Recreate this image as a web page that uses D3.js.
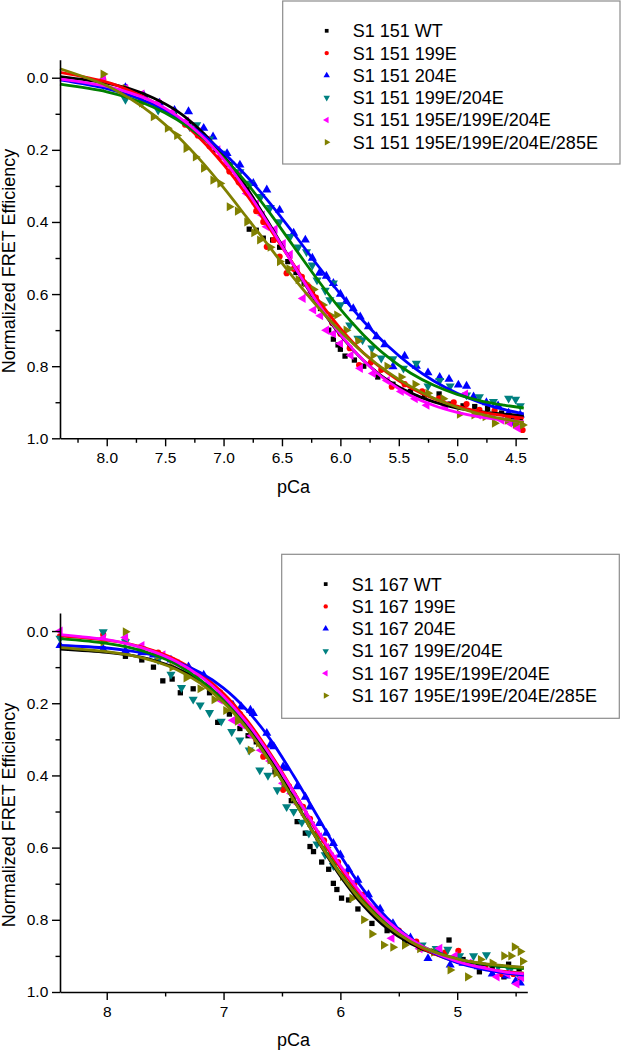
<!DOCTYPE html>
<html><head><meta charset="utf-8">
<script src="https://cdn.jsdelivr.net/npm/d3@7"></script>
<style>
body{margin:0;background:#fff}
svg{display:block}
text{font-family:"Liberation Sans",Arial,Helvetica,sans-serif;fill:#000}
</style>
</head><body>
<svg id="c" width="621" height="1050"></svg>
<script>
// ---------- DATA ----------
const topLabels = ["S1 151 WT","S1 151 199E","S1 151 204E","S1 151 199E/204E","S1 151 195E/199E/204E","S1 151 195E/199E/204E/285E"];
const bottomLabels = ["S1 167 WT","S1 167 199E","S1 167 204E","S1 167 199E/204E","S1 167 195E/199E/204E","S1 167 195E/199E/204E/285E"];
const markerColors = ["#000000","#ff0000","#0000ff","#008080","#ff00ff","#808000"];
const lineColors   = ["#000000","#ff0000","#0000ff","#008000","#ff00ff","#808000"];
const markerShapes = ["square","circle","up","down","left","right"];

const yTicks = [0.0,0.2,0.4,0.6,0.8,1.0];
const yMinorTicks = [0.1,0.3,0.5,0.7,0.9];
const topXTicks = [8.0,7.5,7.0,6.5,6.0,5.5,5.0,4.5];
const topXMinor = [8.25,7.75,7.25,6.75,6.25,5.75,5.25,4.75];
const botXTicks = [8,7,6,5];
const botXMinor = [7.5,6.5,5.5,4.5];

// fitted curves, sampled at these pCa values
const fitGrid = [8.4,8.0,7.8,7.6,7.4,7.2,7.0,6.8,6.6,6.4,6.2,6.0,5.8,5.6,5.4,5.2,5.0,4.8,4.6,4.43];
const topFitWT      = [-0.003,0.015,0.031,0.056,0.092,0.145,0.216,0.306,0.410,0.520,0.625,0.714,0.785,0.838,0.874,0.899,0.916,0.926,0.933,0.937];
const topFit199E    = [-0.015,0.012,0.036,0.068,0.112,0.169,0.241,0.326,0.421,0.518,0.612,0.695,0.764,0.818,0.860,0.890,0.911,0.927,0.937,0.944];
const topFit204E    = [0.006,0.030,0.049,0.075,0.109,0.153,0.208,0.274,0.349,0.432,0.518,0.600,0.676,0.742,0.797,0.841,0.875,0.901,0.920,0.932];
const topFit199_204 = [0.018,0.039,0.057,0.082,0.116,0.161,0.221,0.293,0.377,0.468,0.558,0.642,0.714,0.773,0.819,0.853,0.878,0.896,0.908,0.916];
const topFitTriple  = [0.004,0.024,0.042,0.067,0.105,0.157,0.227,0.314,0.414,0.520,0.622,0.712,0.785,0.841,0.881,0.909,0.928,0.941,0.949,0.954];
const topFitQuad    = [-0.025,0.022,0.058,0.103,0.160,0.228,0.305,0.388,0.472,0.555,0.633,0.703,0.764,0.815,0.856,0.889,0.914,0.933,0.947,0.956];

const botFitWT      = [0.050,0.059,0.067,0.081,0.104,0.138,0.190,0.262,0.355,0.464,0.577,0.679,0.762,0.824,0.866,0.894,0.912,0.923,0.929,0.933];
const botFit199E    = [0.013,0.025,0.036,0.054,0.080,0.119,0.173,0.247,0.339,0.444,0.554,0.656,0.742,0.810,0.860,0.894,0.917,0.933,0.943,0.948];
const botFit204E    = [0.040,0.047,0.055,0.067,0.086,0.115,0.158,0.219,0.300,0.401,0.511,0.621,0.718,0.795,0.852,0.892,0.919,0.936,0.947,0.953];
const botFit199_204 = [0.021,0.034,0.046,0.065,0.093,0.135,0.192,0.269,0.363,0.468,0.574,0.671,0.751,0.812,0.857,0.887,0.908,0.921,0.930,0.935];
const botFitTriple  = [0.010,0.024,0.037,0.057,0.085,0.125,0.181,0.254,0.344,0.446,0.551,0.650,0.735,0.803,0.853,0.890,0.915,0.932,0.944,0.950];
const botFitQuad    = [0.046,0.057,0.067,0.083,0.107,0.144,0.198,0.271,0.363,0.468,0.576,0.674,0.755,0.816,0.860,0.889,0.908,0.920,0.927,0.932];

// measured points [pCa, normalized FRET efficiency]
const topWT = [[8.03,0.01],[7.84,0.03],[7.70,0.05],[7.55,0.07],[7.42,0.10],[7.30,0.13],[7.18,0.16],[7.07,0.20],[6.97,0.24],[6.88,0.28],[6.80,0.31],[6.78,0.42],[6.72,0.423],[6.66,0.445],[6.58,0.45],[6.52,0.47],[6.45,0.51],[6.38,0.54],[6.31,0.57],[6.24,0.60],[6.17,0.64],[6.10,0.70],[6.06,0.725],[6.02,0.741],[6.00,0.753],[5.96,0.772],[5.88,0.783],[5.80,0.80],[5.68,0.83],[5.55,0.85],[5.40,0.87],[5.28,0.88],[5.155,0.877],[5.06,0.905],[4.95,0.91],[4.85,0.912],[4.74,0.917],[4.62,0.93],[4.52,0.94],[4.46,0.945]];
const top199E = [[8.03,0.005],[7.84,0.027],[7.70,0.053],[7.56,0.07],[7.44,0.10],[7.33,0.13],[7.22,0.16],[7.12,0.19],[7.03,0.22],[6.95,0.26],[6.87,0.29],[6.80,0.32],[6.72,0.37],[6.66,0.40],[6.63,0.469],[6.57,0.45],[6.52,0.496],[6.46,0.542],[6.40,0.53],[6.33,0.552],[6.27,0.58],[6.21,0.61],[6.14,0.65],[6.07,0.68],[6.00,0.71],[5.92,0.75],[5.84,0.797],[5.74,0.79],[5.65,0.81],[5.56,0.857],[5.45,0.85],[5.30,0.87],[5.155,0.889],[5.03,0.90],[4.92,0.905],[4.81,0.921],[4.68,0.923],[4.56,0.94],[4.49,0.95],[4.44,0.977]];
const top204E = [[8.03,0.01],[7.84,0.027],[7.68,0.05],[7.55,0.07],[7.42,0.09],[7.30,0.094],[7.17,0.14],[7.09,0.164],[6.97,0.21],[6.86,0.242],[6.745,0.293],[6.63,0.311],[6.52,0.367],[6.40,0.431],[6.30,0.45],[6.24,0.50],[6.18,0.542],[6.12,0.55],[6.06,0.57],[6.00,0.60],[5.95,0.62],[5.89,0.64],[5.83,0.663],[5.76,0.69],[5.69,0.718],[5.62,0.74],[5.55,0.801],[5.45,0.772],[5.35,0.80],[5.25,0.818],[5.15,0.831],[5.07,0.836],[4.99,0.852],[4.92,0.855],[4.86,0.885],[4.75,0.901],[4.65,0.91],[4.56,0.93],[4.52,0.958],[4.46,0.935]];
const top199_204 = [[8.03,0.02],[7.84,0.06],[7.70,0.07],[7.56,0.09],[7.43,0.099],[7.29,0.136],[7.23,0.131],[7.12,0.17],[7.02,0.21],[6.94,0.24],[6.86,0.261],[6.77,0.293],[6.68,0.33],[6.60,0.36],[6.52,0.40],[6.43,0.441],[6.36,0.47],[6.29,0.483],[6.24,0.52],[6.20,0.561],[6.13,0.59],[6.09,0.616],[6.06,0.57],[6.00,0.63],[5.92,0.686],[5.85,0.723],[5.81,0.727],[5.73,0.75],[5.65,0.778],[5.55,0.78],[5.46,0.806],[5.35,0.792],[5.25,0.855],[5.15,0.84],[5.06,0.855],[4.92,0.88],[4.81,0.885],[4.69,0.898],[4.56,0.889],[4.50,0.892],[4.46,0.91]];
const topTriple = [[8.03,0.005],[7.84,0.03],[7.70,0.045],[7.56,0.07],[7.44,0.095],[7.32,0.12],[7.22,0.15],[7.14,0.173],[7.05,0.20],[6.97,0.237],[6.88,0.27],[6.80,0.321],[6.72,0.35],[6.67,0.381],[6.63,0.413],[6.56,0.42],[6.49,0.46],[6.43,0.49],[6.37,0.53],[6.32,0.612],[6.27,0.60],[6.23,0.644],[6.17,0.66],[6.12,0.70],[6.06,0.71],[6.00,0.737],[5.91,0.77],[5.83,0.806],[5.72,0.82],[5.60,0.84],[5.48,0.87],[5.36,0.89],[5.26,0.908],[5.10,0.91],[4.93,0.877],[4.82,0.935],[4.70,0.94],[4.62,0.95],[4.55,0.958],[4.48,0.972]];
const topQuad = [[8.03,-0.01],[7.84,0.03],[7.70,0.07],[7.60,0.108],[7.48,0.14],[7.40,0.16],[7.32,0.196],[7.24,0.22],[7.17,0.251],[7.09,0.284],[7.03,0.293],[6.95,0.358],[6.88,0.37],[6.80,0.40],[6.74,0.43],[6.69,0.45],[6.60,0.47],[6.52,0.51],[6.44,0.53],[6.36,0.56],[6.30,0.57],[6.23,0.587],[6.15,0.63],[6.08,0.66],[6.03,0.658],[5.95,0.70],[5.85,0.73],[5.72,0.77],[5.60,0.80],[5.48,0.83],[5.36,0.85],[5.25,0.875],[5.12,0.89],[4.98,0.933],[4.855,0.935],[4.76,0.94],[4.68,0.958],[4.57,0.95],[4.50,0.96],[4.44,0.963]];

const botWT = [[8.03,0.05],[7.84,0.07],[7.70,0.08],[7.60,0.10],[7.52,0.138],[7.44,0.133],[7.37,0.171],[7.26,0.16],[7.12,0.171],[7.05,0.253],[6.95,0.23],[6.86,0.27],[6.79,0.29],[6.72,0.307],[6.64,0.34],[6.56,0.39],[6.48,0.43],[6.42,0.47],[6.37,0.528],[6.30,0.56],[6.26,0.597],[6.23,0.611],[6.16,0.64],[6.10,0.66],[6.06,0.699],[6.03,0.716],[5.99,0.74],[5.93,0.745],[5.85,0.77],[5.73,0.81],[5.60,0.83],[5.45,0.86],[5.30,0.88],[5.15,0.89],[5.07,0.856],[4.95,0.91],[4.81,0.944],[4.70,0.93],[4.60,0.958],[4.56,0.923],[4.47,0.935]];
const bot199E = [[8.40,0.015],[8.03,0.01],[7.84,0.024],[7.70,0.048],[7.56,0.06],[7.44,0.08],[7.33,0.10],[7.22,0.12],[7.12,0.15],[7.03,0.17],[6.94,0.20],[6.86,0.23],[6.78,0.27],[6.72,0.30],[6.66,0.348],[6.60,0.36],[6.54,0.39],[6.49,0.44],[6.44,0.43],[6.40,0.454],[6.32,0.487],[6.26,0.52],[6.20,0.56],[6.14,0.58],[6.08,0.62],[6.02,0.64],[5.95,0.67],[5.88,0.70],[5.80,0.73],[5.70,0.77],[5.62,0.80],[5.50,0.83],[5.35,0.86],[5.20,0.89],[5.10,0.89],[4.99,0.886],[4.88,0.92],[4.76,0.93],[4.62,0.95],[4.52,0.95],[4.46,0.96]];
const bot204E = [[8.40,0.04],[8.03,0.05],[7.84,0.055],[7.70,0.06],[7.60,0.066],[7.45,0.08],[7.30,0.099],[7.29,0.117],[7.17,0.122],[7.03,0.173],[6.92,0.205],[6.85,0.21],[6.77,0.219],[6.745,0.228],[6.63,0.283],[6.60,0.316],[6.57,0.32],[6.49,0.376],[6.46,0.38],[6.37,0.431],[6.30,0.46],[6.26,0.487],[6.18,0.533],[6.12,0.56],[6.06,0.588],[6.00,0.62],[5.93,0.66],[5.85,0.69],[5.76,0.73],[5.66,0.77],[5.55,0.81],[5.40,0.85],[5.25,0.907],[5.15,0.89],[5.06,0.925],[4.95,0.92],[4.82,0.93],[4.70,0.95],[4.58,0.955],[4.50,0.97],[4.46,0.975]];
const bot199_204 = [[8.40,0.02],[8.03,0.002],[7.84,0.03],[7.70,0.05],[7.56,0.08],[7.45,0.12],[7.36,0.157],[7.26,0.189],[7.20,0.205],[7.12,0.226],[7.02,0.25],[6.93,0.279],[6.86,0.302],[6.78,0.33],[6.69,0.385],[6.62,0.40],[6.54,0.44],[6.46,0.487],[6.40,0.50],[6.33,0.53],[6.27,0.56],[6.20,0.59],[6.13,0.62],[6.06,0.65],[5.98,0.68],[5.90,0.71],[5.80,0.75],[5.70,0.78],[5.58,0.81],[5.45,0.85],[5.30,0.87],[5.18,0.88],[5.08,0.882],[4.98,0.90],[4.86,0.90],[4.75,0.897],[4.65,0.93],[4.55,0.94],[4.48,0.95]];
const botTriple = [[8.40,0.0],[8.03,0.02],[7.84,0.018],[7.70,0.04],[7.52,0.066],[7.40,0.09],[7.28,0.12],[7.15,0.15],[7.03,0.191],[6.92,0.247],[6.84,0.26],[6.76,0.29],[6.68,0.33],[6.60,0.36],[6.55,0.38],[6.49,0.422],[6.42,0.45],[6.36,0.48],[6.30,0.51],[6.24,0.54],[6.18,0.57],[6.12,0.60],[6.05,0.63],[5.98,0.67],[5.90,0.70],[5.80,0.74],[5.70,0.78],[5.56,0.851],[5.45,0.85],[5.32,0.88],[5.15,0.879],[5.02,0.90],[4.90,0.92],[4.78,0.93],[4.66,0.958],[4.57,0.95],[4.49,0.978],[4.45,0.96]];
const botQuad = [[8.03,0.03],[7.84,0.002],[7.70,0.05],[7.56,0.07],[7.44,0.10],[7.32,0.13],[7.20,0.16],[7.08,0.19],[6.98,0.22],[6.88,0.25],[6.77,0.33],[6.70,0.31],[6.60,0.357],[6.55,0.394],[6.48,0.42],[6.40,0.46],[6.33,0.49],[6.26,0.53],[6.19,0.57],[6.12,0.60],[6.05,0.64],[5.98,0.68],[5.90,0.74],[5.80,0.80],[5.73,0.839],[5.63,0.87],[5.55,0.876],[5.45,0.87],[5.32,0.88],[5.20,0.89],[5.06,0.939],[4.91,0.958],[4.80,0.91],[4.70,0.92],[4.60,0.90],[4.54,0.90],[4.51,0.875],[4.46,0.888],[4.44,0.915]];

// ---------- DRAW ----------
const svg = d3.select("#c");
const FONT = '"Liberation Sans", Arial, Helvetica, sans-serif';
const x = d3.scaleLinear().domain([8.4, 4.4]).range([60, 527.3]);

function symbolPath(shape, size) {
  const map = {square: d3.symbolSquare, circle: d3.symbolCircle, up: d3.symbolTriangle,
               down: d3.symbolTriangle, left: d3.symbolTriangle, right: d3.symbolTriangle};
  return d3.symbol().type(map[shape]).size(size)();
}
const rot = {square:0, circle:0, up:0, down:180, left:-90, right:90};
const sizes = {square:28, circle:30, up:36, down:36, left:36, right:36};

function drawPanel(p) {
  const y = d3.scaleLinear().domain([-0.05, 1.0]).range([p.top, p.bottom]);
  const g = svg.append("g");

  // scatter
  p.points.forEach((pts, i) => {
    const shape = markerShapes[i];
    const path = symbolPath(shape, sizes[shape]);
    g.append("g").selectAll("path").data(pts).join("path")
      .attr("d", path)
      .attr("fill", markerColors[i])
      .attr("transform", d => `translate(${x(d[0])},${y(d[1])}) rotate(${rot[shape]})`);
  });

  // fitted lines
  const line = d3.line().x(d => x(d[0])).y(d => y(d[1])).curve(d3.curveCatmullRom.alpha(0.5));
  p.fits.forEach((f, i) => {
    g.append("path").datum(fitGrid.map((pc, k) => [pc, f[k]]))
      .attr("d", line).attr("fill", "none")
      .attr("stroke", lineColors[i]).attr("stroke-width", 2.8)
      .attr("stroke-linejoin", "round");
  });

  // axes
  const styleAxis = sel => {
    sel.selectAll("path.domain").attr("stroke", "#000").attr("stroke-width", 1.6);
    sel.selectAll(".tick line").attr("stroke", "#000").attr("stroke-width", 1.4);
    sel.selectAll("text").attr("font-family", FONT).attr("font-size", 15.5).attr("fill", "#000");
  };
  g.append("g").attr("transform", `translate(0,${p.bottom})`)
    .call(d3.axisBottom(x).tickValues(p.xMinor).tickSize(4.5).tickFormat(""))
    .call(s => s.select("path.domain").remove()).call(styleAxis);
  g.append("g").attr("transform", `translate(0,${p.bottom})`)
    .call(d3.axisBottom(x).tickValues(p.xTicks).tickSize(8).tickSizeOuter(0).tickPadding(6).tickFormat(p.xFormat))
    .call(styleAxis);
  g.append("g").attr("transform", `translate(60,0)`)
    .call(d3.axisLeft(y).tickValues(yMinorTicks).tickSize(4.5).tickFormat(""))
    .call(s => s.select("path.domain").remove()).call(styleAxis);
  g.append("g").attr("transform", `translate(60,0)`)
    .call(d3.axisLeft(y).tickValues(yTicks).tickSize(8).tickSizeOuter(0).tickPadding(3.7).tickFormat(d3.format(".1f")))
    .call(styleAxis);

  // axis titles
  g.append("text").attr("x", 293.5).attr("y", p.bottom + 54.4)
    .attr("text-anchor", "middle").attr("font-size", 18).attr("font-family", FONT).text("pCa");
  g.append("text").attr("transform", `translate(15,${p.labelY}) rotate(-90)`)
    .attr("text-anchor", "middle").attr("font-size", 18).attr("font-family", FONT)
    .text("Normalized FRET Efficiency");

  // legend
  const lg = g.append("g");
  lg.append("rect").attr("x", p.legend[0]).attr("y", p.legend[1])
    .attr("width", p.legend[2]).attr("height", p.legend[3])
    .attr("fill", "#fff").attr("stroke", "#8c8c8c").attr("stroke-width", 1.2);
  p.labels.forEach((lab, i) => {
    const cy = p.legend[1] + 29.8 + i * 22.3;
    const shape = markerShapes[i];
    lg.append("path").attr("d", symbolPath(shape, sizes[shape] * 0.5))
      .attr("fill", markerColors[i])
      .attr("transform", `translate(${p.legend[0] + 44},${cy}) rotate(${rot[shape]})`);
    lg.append("text").attr("x", p.legend[0] + 70).attr("y", cy + 6.4)
      .attr("font-size", 18).attr("font-family", FONT).text(lab);
  });
}

drawPanel({
  top: 59.7, bottom: 438.3, labelY: 261,
  xTicks: topXTicks, xMinor: topXMinor, xFormat: d3.format(".1f"),
  points: [topWT, top199E, top204E, top199_204, topTriple, topQuad],
  fits: [topFitWT, topFit199E, topFit204E, topFit199_204, topFitTriple, topFitQuad],
  labels: topLabels, legend: [282.7, 1, 337.3, 163]
});
drawPanel({
  top: 613, bottom: 992, labelY: 815,
  xTicks: botXTicks, xMinor: botXMinor, xFormat: d3.format("d"),
  points: [botWT, bot199E, bot204E, bot199_204, botTriple, botQuad],
  fits: [botFitWT, botFit199E, botFit204E, botFit199_204, botFitTriple, botFitQuad],
  labels: bottomLabels, legend: [281.7, 554.3, 337.6, 164]
});
</script>
</body></html>
